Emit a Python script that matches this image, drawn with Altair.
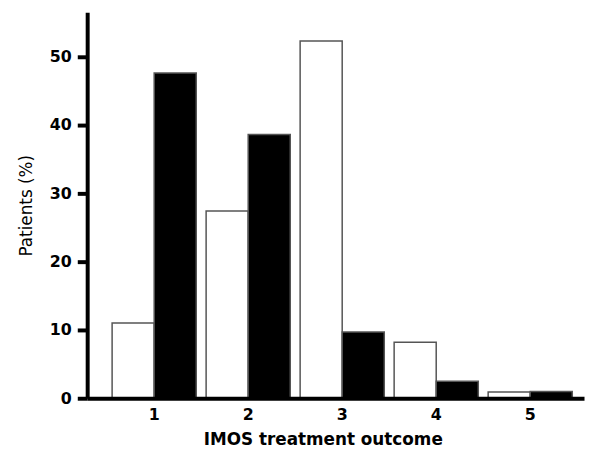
import altair as alt
import pandas as pd

outcomes = ["1", "2", "3", "4", "5"]
white_vals = [11.0, 27.4, 52.3, 8.2, 0.9]
black_vals = [47.6, 38.6, 9.7, 2.5, 1.0]
groups = ["A", "B"]
y_ticks = [0, 10, 20, 30, 40, 50]

rows = []
for o, w, b in zip(outcomes, white_vals, black_vals):
    rows.append({"outcome": o, "group": "A", "value": w})
    rows.append({"outcome": o, "group": "B", "value": b})
df = pd.DataFrame(rows)

FONT = "DejaVu Sans"

chart = alt.Chart(df).mark_bar(stroke="#555555", strokeWidth=1.5).encode(
    x=alt.X(
        "outcome:N",
        sort=outcomes,
        scale=alt.Scale(paddingInner=0.105, paddingOuter=0.195, align=0.68),
        axis=alt.Axis(
            title="IMOS treatment outcome",
            labelAngle=0,
            ticks=False,
            domainWidth=4,
            domainColor="black",
            labelFont=FONT,
            labelFontWeight="bold",
            labelFontSize=16,
            labelColor="black",
            labelPadding=8,
            titleFont=FONT,
            titleFontSize=17,
            titleFontWeight="bold",
            titleColor="black",
            titlePadding=10,
            titleX=238,
            zindex=1,
        ),
    ),
    xOffset=alt.XOffset("group:N", sort=groups, scale=alt.Scale(paddingInner=0, paddingOuter=0)),
    y=alt.Y(
        "value:Q",
        scale=alt.Scale(domain=[0, 56.5], nice=False),
        axis=alt.Axis(
            values=y_ticks,
            title="Patients (%)",
            grid=False,
            domainWidth=4,
            domainColor="black",
            tickWidth=4,
            tickSize=10,
            tickColor="black",
            labelFont=FONT,
            labelFontWeight="bold",
            labelFontSize=16,
            labelColor="black",
            labelPadding=6,
            titleFont=FONT,
            titleFontSize=17,
            titleFontWeight="normal",
            titleColor="black",
            titlePadding=14,
            zindex=1,
        ),
    ),
    fill=alt.Fill("group:N", scale=alt.Scale(domain=groups, range=["white", "black"]), legend=None),
).properties(
    width=502,
    height=390,
    padding={"left": 80, "top": 2, "right": 2, "bottom": 50},
    autosize=alt.AutoSizeParams(type="none"),
).configure_view(stroke=None)

chart.save("out.html", embed_options={"renderer": "svg", "actions": False})
